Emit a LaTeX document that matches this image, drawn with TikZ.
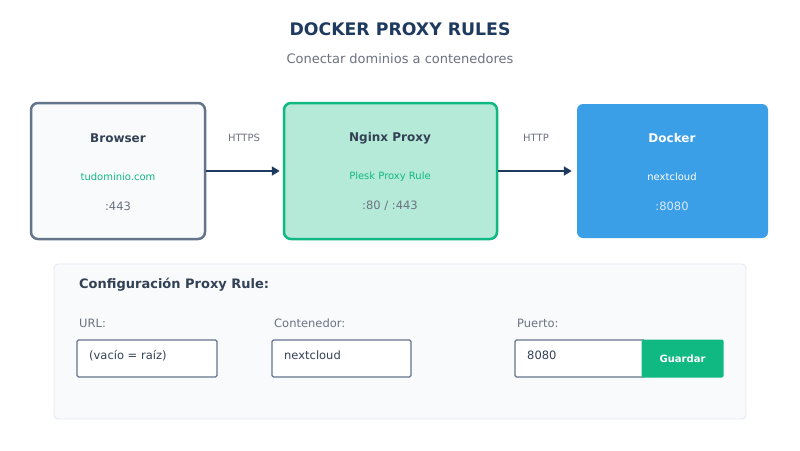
\documentclass[tikz,border=0pt]{standalone}
\usepackage{fontspec}
\setmainfont{DejaVu Sans}
\usetikzlibrary{arrows.meta}
\definecolor{navy}{HTML}{1E3A5F}
\definecolor{slate}{HTML}{64748B}
\definecolor{darktext}{HTML}{334155}
\definecolor{graytext}{HTML}{6B7280}
\definecolor{grn}{HTML}{10B981}
\definecolor{lgrn}{HTML}{B5E9D8}
\definecolor{blu}{HTML}{3B9FE8}
\definecolor{paleblu}{HTML}{DBEAFE}
\definecolor{panel}{HTML}{F8FAFC}
\definecolor{panelline}{HTML}{E2E8F0}
\tikzset{
  card/.style={rounded corners=7pt, line width=2.5pt, minimum width=#1, minimum height=136pt, inner sep=0pt},
  ttl/.style={font=\bfseries\fontsize{12}{14}\selectfont, text=darktext},
  sub/.style={font=\fontsize{10}{12}\selectfont, text=grn},
  port/.style={font=\fontsize{11.5}{13}\selectfont, text=graytext},
  lbl/.style={font=\fontsize{10}{12}\selectfont, text=graytext},
  flow/.style={line width=2.8pt, draw=navy, -{Triangle[length=8pt,width=9pt]}},
  field/.style={draw=slate, line width=1.2pt, fill=white, rounded corners=1.5pt, minimum width=140pt, minimum height=37pt, inner sep=0pt},
  flabel/.style={font=\fontsize{11.5}{13}\selectfont, text=graytext, anchor=base west, inner sep=0pt},
  ftext/.style={font=\fontsize{11.5}{13}\selectfont, text=darktext, anchor=base west, inner sep=0pt}
}
\begin{document}
\begin{tikzpicture}[x=1pt,y=-1pt]
\useasboundingbox (0,0) rectangle (800,450);
\fill[white] (0,0) rectangle (800,450);
\node[font=\bfseries\fontsize{17.3}{20}\selectfont, text=navy] (title) at (400,29) {DOCKER PROXY RULES};
\node[font=\fontsize{13}{15}\selectfont, text=graytext] (subtitle) at (400,59) {Conectar dominios a contenedores};

\node[card=174pt, draw=slate, fill=panel] (browser) at (118,171) {};
\node[ttl] (bt) at (118,138) {Browser};
\node[sub] (bs) at (118,177) {tudominio.com};
\node[port] (bp) at (118,206) {:443};

\node[card=213pt, draw=grn, fill=lgrn] (nginx) at (390.5,171) {};
\node[ttl] (nt) at (390,138) {Nginx Proxy};
\node[sub] (ns) at (390,177) {Plesk Proxy Rule};
\node[port] (np) at (390,206) {:80 / :443};

\node[card=191pt, minimum height=134pt, draw=none, fill=blu, rounded corners=6pt] (docker) at (672.5,171) {};
\node[ttl, text=white] (dt) at (672,138) {Docker};
\node[sub, text=white] (ds) at (672,177) {nextcloud};
\node[port, text=paleblu] (dp) at (672,206) {:8080};

\draw[flow, shorten >=3pt] (browser.east) -- (nginx.west);
\node[lbl] (https) at (244,138) {HTTPS};
\draw[flow, shorten >=4pt] (nginx.east) -- (docker.west);
\node[lbl] (http) at (536,138) {HTTP};

\node[draw=panelline, fill=panel, line width=0.8pt, rounded corners=4pt, minimum width=692pt, minimum height=155pt, inner sep=0pt] (cfg) at (400,341.5) {};
\node[font=\bfseries\fontsize{13}{15}\selectfont, text=darktext, anchor=base west, inner sep=0pt] (cfgt) at (79,288) {Configuración Proxy Rule:};

\node[flabel] (urll) at (79,327) {URL:};
\node[field] (url) at (147,358.5) {};
\node[ftext] (urlt) at (89,359) {(vacío = raíz)};

\node[flabel] (conl) at (274,327) {Contenedor:};
\node[field, minimum width=139pt] (con) at (341.5,358.5) {};
\node[ftext] (cont) at (284,359) {nextcloud};

\node[flabel] (purl) at (517,327) {Puerto:};
\node[field, minimum width=130pt] (pur) at (580,358.5) {};
\node[ftext] (purt) at (527,359) {8080};
\node[fill=grn, rounded corners=1.5pt, minimum width=82pt, minimum height=38pt, inner sep=0pt, font=\bfseries\fontsize{10}{12}\selectfont, text=white] (save) at (682.5,358.5) {Guardar};
\end{tikzpicture}
\end{document}
